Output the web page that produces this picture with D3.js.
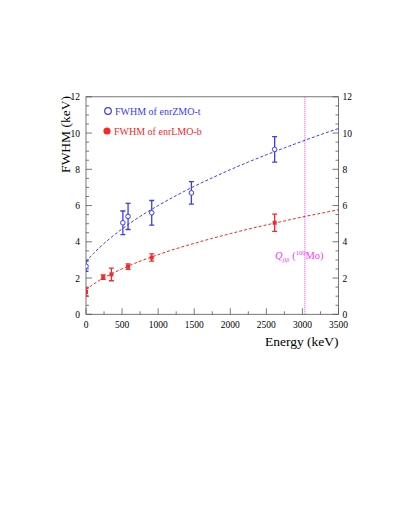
<!DOCTYPE html>
<html>
<head>
<meta charset="utf-8">
<script src="https://cdn.jsdelivr.net/npm/d3@7/dist/d3.min.js"></script>
<style>
  html, body { margin: 0; padding: 0; background: #fff; }
  svg text { font-family: "Liberation Serif", "DejaVu Serif", serif; }
</style>
</head>
<body>
<div id="chart"></div>
<script>
  // measured points (energy in keV, FWHM in keV, error)
  let zmoEnergy = [0, 511, 583, 911, 1461, 2615];
  let zmoFwhm = [2.65, 5.05, 5.4, 5.6, 6.7, 9.1];
  let zmoErr = [0.28, 0.65, 0.72, 0.68, 0.62, 0.7];

  let lmoEnergy = [0, 238, 352, 583, 911, 2615];
  let lmoFwhm = [1.23, 2.05, 2.2, 2.63, 3.13, 5.05];
  let lmoErr = [0.22, 0.12, 0.35, 0.15, 0.2, 0.48];

  // fit curves
  let fitEnergy = [0, 50, 100, 250, 500, 750, 1000, 1250, 1500, 1750, 2000, 2250, 2500, 2750, 3000, 3250, 3500];
  let zmoFit = [2.9, 3.13, 3.34, 3.91, 4.71, 5.4, 6.0, 6.55, 7.06, 7.53, 7.98, 8.4, 8.8, 9.18, 9.55, 9.91, 10.25];
  let lmoFit = [1.35, 1.5, 1.65, 2.02, 2.51, 2.93, 3.29, 3.62, 3.91, 4.19, 4.45, 4.7, 4.93, 5.15, 5.37, 5.57, 5.77];

  let xTicks = [0, 500, 1000, 1500, 2000, 2500, 3000, 3500];
  let yTicks = [0, 2, 4, 6, 8, 10, 12];
  let qbb = 3034;

  let blue = '#3b3bf5', red = '#f22a2a', magenta = '#f040f0';

  let svg = d3.select('#chart').append('svg')
    .attr('width', 399).attr('height', 516);

  let x = d3.scaleLinear().domain([0, 3500]).range([86, 338.5]);
  let y = d3.scaleLinear().domain([0, 12]).range([314.3, 96.8]);

  svg.append('clipPath').attr('id', 'plotclip')
    .append('rect')
    .attr('x', x(0)).attr('y', y(12))
    .attr('width', x(3500) - x(0)).attr('height', y(0) - y(12));

  // frame
  svg.append('rect')
    .attr('x', x(0)).attr('y', y(12))
    .attr('width', x(3500) - x(0)).attr('height', y(0) - y(12))
    .attr('fill', 'none').attr('stroke', '#555').attr('stroke-width', 0.8);

  let tickColor = '#555';
  // x ticks (inward)
  d3.range(0, 3501, 250).forEach(function(v) {
    let major = v % 500 === 0;
    svg.append('line')
      .attr('x1', x(v)).attr('x2', x(v))
      .attr('y1', y(0)).attr('y2', y(0) - (major ? 6 : 3))
      .attr('stroke', tickColor).attr('stroke-width', 0.8);
  });
  svg.selectAll('.xlab').data(xTicks).enter().append('text')
    .attr('x', function(d) { return x(d); })
    .attr('y', y(0) + 14)
    .attr('text-anchor', 'middle')
    .attr('font-size', 9.5)
    .text(function(d) { return d; });

  // y ticks left and right
  d3.range(0, 12.01, 0.5).forEach(function(v) {
    let major = Math.abs(v % 2) < 1e-6;
    let len = major ? 6 : 3;
    svg.append('line')
      .attr('x1', x(0)).attr('x2', x(0) + len)
      .attr('y1', y(v)).attr('y2', y(v))
      .attr('stroke', tickColor).attr('stroke-width', 0.8);
    svg.append('line')
      .attr('x1', x(3500)).attr('x2', x(3500) - len)
      .attr('y1', y(v)).attr('y2', y(v))
      .attr('stroke', tickColor).attr('stroke-width', 0.8);
  });
  svg.selectAll('.ylab').data(yTicks).enter().append('text')
    .attr('x', x(0) - 6)
    .attr('y', function(d) { return y(d) + 3.5; })
    .attr('text-anchor', 'end')
    .attr('font-size', 9.5)
    .text(function(d) { return d; });
  svg.selectAll('.ylab2').data(yTicks).enter().append('text')
    .attr('x', x(3500) + 4)
    .attr('y', function(d) { return y(d) + 3.5; })
    .attr('text-anchor', 'start')
    .attr('font-size', 9.5)
    .text(function(d) { return d; });

  // axis titles
  svg.append('text')
    .attr('transform', 'translate(' + 70 + ',' + 96 + ') rotate(-90)')
    .attr('text-anchor', 'end')
    .attr('font-size', 13.5)
    .text('FWHM (keV)');
  svg.append('text')
    .attr('x', x(3500)).attr('y', 346)
    .attr('text-anchor', 'end')
    .attr('font-size', 13.5)
    .text('Energy (keV)');

  // Q_bb line
  svg.append('line')
    .attr('x1', x(qbb)).attr('x2', x(qbb))
    .attr('y1', y(12)).attr('y2', y(0))
    .attr('stroke', magenta).attr('stroke-width', 1)
    .attr('stroke-dasharray', '1,1');
  let qt = svg.append('text')
    .attr('x', 275).attr('y', 259)
    .attr('font-size', 10.5)
    .attr('fill', magenta);
  qt.append('tspan').attr('font-style', 'italic').text('Q');
  qt.append('tspan').attr('font-size', 7).attr('font-style', 'italic').attr('dy', 3).text('ββ');
  qt.append('tspan').attr('dy', -3).text(' (');
  qt.append('tspan').attr('font-size', 6.5).attr('dy', -4).text('100');
  qt.append('tspan').attr('dy', 4).text('Mo)');

  let plot = svg.append('g').attr('clip-path', 'url(#plotclip)');

  // fit curves
  let line = d3.line().curve(d3.curveNatural);
  plot.append('path')
    .attr('d', line(fitEnergy.map(function(e, i) { return [x(e), y(zmoFit[i])]; })))
    .attr('fill', 'none').attr('stroke', blue).attr('stroke-width', 1)
    .attr('stroke-dasharray', '3,2');
  plot.append('path')
    .attr('d', line(fitEnergy.map(function(e, i) { return [x(e), y(lmoFit[i])]; })))
    .attr('fill', 'none').attr('stroke', red).attr('stroke-width', 1)
    .attr('stroke-dasharray', '3,2');

  function drawErrors(en, val, err, color) {
    en.forEach(function(e, i) {
      let cx = x(e);
      plot.append('line')
        .attr('x1', cx).attr('x2', cx)
        .attr('y1', y(val[i] - err[i])).attr('y2', y(val[i] + err[i]))
        .attr('stroke', color).attr('stroke-width', 1.3);
      [val[i] - err[i], val[i] + err[i]].forEach(function(v) {
        plot.append('line')
          .attr('x1', cx - 2.5).attr('x2', cx + 2.5)
          .attr('y1', y(v)).attr('y2', y(v))
          .attr('stroke', color).attr('stroke-width', 1.3);
      });
    });
  }
  drawErrors(zmoEnergy, zmoFwhm, zmoErr, blue);
  drawErrors(lmoEnergy, lmoFwhm, lmoErr, red);

  plot.selectAll('.zmo').data(zmoEnergy).enter().append('circle')
    .attr('cx', function(d) { return x(d); })
    .attr('cy', function(d, i) { return y(zmoFwhm[i]); })
    .attr('r', 2.3)
    .attr('fill', '#fff').attr('stroke', blue).attr('stroke-width', 1);
  plot.selectAll('.lmo').data(lmoEnergy).enter().append('rect')
    .attr('x', function(d) { return x(d) - 2; })
    .attr('y', function(d, i) { return y(lmoFwhm[i]) - 2; })
    .attr('width', 4).attr('height', 4)
    .attr('fill', red);

  // legend
  svg.append('circle')
    .attr('cx', 108).attr('cy', 111).attr('r', 3.3)
    .attr('fill', 'none').attr('stroke', blue).attr('stroke-width', 1.2);
  svg.append('text')
    .attr('x', 115).attr('y', 114.5)
    .attr('font-size', 10).attr('fill', blue)
    .text('FWHM of enrZMO-t');
  svg.append('circle')
    .attr('cx', 107).attr('cy', 131).attr('r', 3.6)
    .attr('fill', red);
  svg.append('text')
    .attr('x', 114).attr('y', 134.5)
    .attr('font-size', 10).attr('fill', red)
    .text('FWHM of enrLMO-b');
</script>
</body>
</html>
